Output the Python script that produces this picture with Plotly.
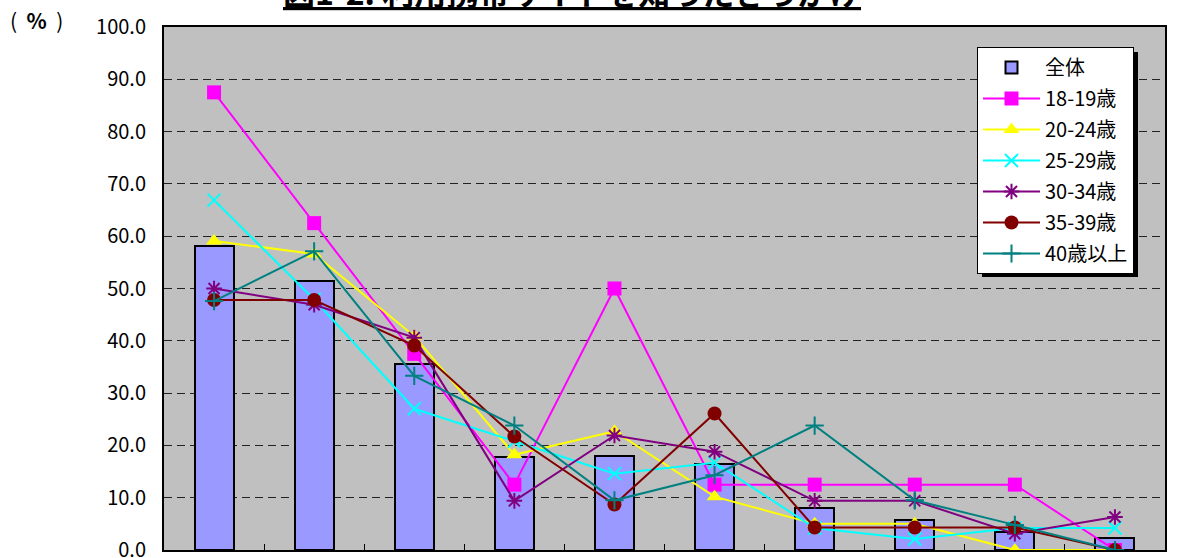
import plotly.graph_objects as go

# ---- data ----
categories = [1, 2, 3, 4, 5, 6, 7, 8, 9, 10]
total_vals = [58.1, 51.4, 35.5, 17.8, 17.9, 16.4, 8.0, 5.7, 3.4, 2.3]
age_18_19 = [87.5, 62.5, 37.5, 12.5, 50.0, 12.5, 12.5, 12.5, 12.5, 0.0]
age_20_24 = [59.1, 56.6, 40.9, 18.2, 22.7, 10.2, 5.0, 5.0, 0.0, 0.0]
age_25_29 = [66.9, 47.9, 27.0, 20.8, 14.6, 16.7, 4.2, 2.1, 4.2, 4.2]
age_30_34 = [50.0, 46.9, 40.6, 9.4, 21.9, 18.8, 9.4, 9.4, 3.1, 6.3]
age_35_39 = [47.8, 47.8, 39.1, 21.7, 8.7, 26.1, 4.3, 4.3, 4.3, 0.0]
age_40_up = [47.6, 57.1, 33.3, 23.8, 9.5, 14.3, 23.8, 9.5, 4.8, 0.0]
y_ticks = [0, 10, 20, 30, 40, 50, 60, 70, 80, 90, 100]
y_tick_labels = ["0.0", "10.0", "20.0", "30.0", "40.0", "50.0", "60.0", "70.0", "80.0", "90.0", "100.0"]

series = [
    ("18-19歳", age_18_19, "#FF00FF", "square"),
    ("20-24歳", age_20_24, "#FFFF00", "triangle-up"),
    ("25-29歳", age_25_29, "#00FFFF", "x-thin"),
    ("30-34歳", age_30_34, "#800080", "asterisk"),
    ("35-39歳", age_35_39, "#800000", "circle"),
    ("40歳以上", age_40_up, "#008080", "cross-thin"),
]

FONT = "Noto Sans CJK JP"
W, H = 1193, 558
ML, MR, MT, MB = 164, 28, 27, 8
PW, PH = W - ML - MR, H - MT - MB


def px_x(p):
    return (p - ML) / PW


def px_y(p):
    return 1 - (p - MT) / PH


fig = go.Figure()
fig.add_trace(go.Bar(
    x=categories, y=total_vals, name="全体", width=0.39,
    marker=dict(color="#9999FF", line=dict(color="black", width=2)),
    legendgroup="g0",
))
for i, (name, vals, color, sym) in enumerate(series):
    thin = sym in ("x-thin", "asterisk", "cross-thin")
    fig.add_trace(go.Scatter(
        x=categories, y=vals, name=name, mode="lines+markers",
        line=dict(color=color, width=2),
        marker=dict(symbol=sym, size=14 if not thin else 13, color=color,
                    line=dict(color=color, width=2 if thin else 0)),
        legendgroup=f"g{i+1}",
    ))

fig.update_layout(
    width=W, height=H,
    margin=dict(l=ML, r=MR, t=MT, b=MB, autoexpand=False),
    paper_bgcolor="white",
    plot_bgcolor="#C0C0C0",
    font=dict(family=FONT, color="black"),
    bargap=0,
    legend=dict(
        x=px_x(977), y=px_y(47), xanchor="left", yanchor="top",
        bgcolor="white", bordercolor="black", borderwidth=1,
        font=dict(family=FONT, size=20, color="black"),
        tracegroupgap=2, itemwidth=57, traceorder="grouped",
    ),
    xaxis=dict(
        range=[0.5, 10.5], tickmode="array",
        tickvals=[c + 0.5 for c in categories[:-1]],
        showticklabels=False, ticks="inside", ticklen=6, tickcolor="black", tickwidth=1,
        showgrid=False, zeroline=False, automargin=False,
        showline=True, linecolor="black", linewidth=2, mirror=True,
    ),
    yaxis=dict(
        range=[0, 100], tickmode="array", tickvals=y_ticks, ticktext=y_tick_labels,
        tickfont=dict(family=FONT, size=20, color="black"),
        ticklabeloverflow="allow", automargin=False,
        showgrid=True, gridcolor="#222222", gridwidth=1, griddash="8px,5px",
        zeroline=False, ticks="", ticklabelstandoff=12,
        showline=True, linecolor="black", linewidth=2, mirror=True,
    ),
    annotations=[
        dict(text="<b><u>図1-2. 利用携帯サイトを知ったきっかけ</u></b>",
             xref="paper", yref="paper", x=px_x(572), y=1.0, xanchor="center", yanchor="bottom",
             yshift=11, showarrow=False, font=dict(family=FONT, size=32, color="black")),
        dict(text="(\u00a0\u00a0<b>%</b>\u00a0\u00a0)", xref="paper", yref="paper",
             x=px_x(36), y=px_y(20),
             xanchor="center", yanchor="middle", showarrow=False,
             font=dict(family=FONT, size=21, color="black")),
    ],
    shapes=[
        dict(type="rect", xref="paper", yref="paper", layer="above",
             x0=px_x(982), x1=px_x(1138),
             y0=px_y(277), y1=px_y(52),
             fillcolor="black", line=dict(width=0)),
    ],
)

fig.write_html("out.html", config={"displayModeBar": False},
               post_script="document.body.style.margin='0';")
